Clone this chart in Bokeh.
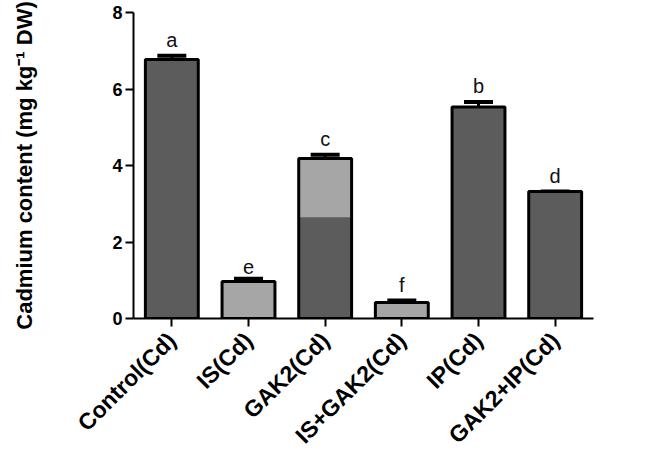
from bokeh.plotting import figure
from bokeh.models import ColumnDataSource, Whisker, TeeHead, FixedTicker
from bokeh.core.properties import value
from bokeh.embed import file_html
from bokeh.resources import INLINE
import math

categories = ["Control(Cd)", "IS(Cd)", "GAK2(Cd)", "IS+GAK2(Cd)", "IP(Cd)", "GAK2+IP(Cd)"]
means = [6.77, 0.97, 4.18, 0.42, 5.53, 3.32]
errors = [0.10, 0.07, 0.10, 0.05, 0.13, 0.0]
letters = ["a", "e", "c", "f", "b", "d"]
fill_colors = ["#5c5c5c", "#a6a6a6", "#5c5c5c", "#a6a6a6", "#5c5c5c", "#5c5c5c"]
# lighter shaded upper part of the GAK2(Cd) bar, as seen in the source image
shade_cats = ["GAK2(Cd)"]
shade_bottom = [2.65]
shade_top = [4.18]
y_ticks = [0, 2, 4, 6, 8]

upper = [m + e for m, e in zip(means, errors)]
label_y = [u + 0.12 for u in upper]

src = ColumnDataSource(dict(cat=categories, mean=means, upper=upper,
                            letter=letters, ly=label_y, fc=fill_colors))

p = figure(x_range=categories, y_range=(0, 8), width=660, height=460,
           output_backend="svg", toolbar_location=None,
           min_border_left=133, min_border_right=67, min_border_top=12, min_border_bottom=140)
p.x_range.range_padding = 0
p.grid.visible = False
p.outline_line_color = None

p.vbar(x="cat", top="mean", width=0.69, source=src,
       fill_color="fc", line_color=None)
p.vbar(x=shade_cats, bottom=shade_bottom, top=shade_top, width=0.69,
       fill_color="#a6a6a6", line_color=None)
p.vbar(x="cat", top="mean", width=0.69, source=src,
       fill_color=None, line_color="black", line_width=3)

w = Whisker(base="cat", upper="upper", lower="mean", source=src,
            line_color="black", line_width=3,
            upper_head=TeeHead(size=29, line_color="black", line_width=4),
            lower_head=None)
p.add_layout(w)

p.text(x="cat", y="ly", text="letter", source=src, text_align="center",
       text_baseline="bottom", text_font=value("Liberation Sans"),
       text_font_size="20px", text_color="#111111")

p.yaxis.ticker = FixedTicker(ticks=y_ticks)
p.yaxis.minor_tick_line_color = None
p.yaxis.axis_label = "Cadmium content (mg kg\u207b\u00b9 DW)"
p.yaxis.axis_label_text_font = "Liberation Sans"
p.yaxis.axis_label_text_font_style = "bold"
p.yaxis.axis_label_text_font_size = "22px"
p.yaxis.axis_label_text_color = "black"
p.yaxis.axis_label_standoff = 72

for ax in (p.xaxis, p.yaxis):
    ax.axis_line_width = 2
    ax.axis_line_color = "black"
    ax.major_tick_line_width = 2
    ax.major_tick_line_color = "black"
    ax.major_tick_in = 0
    ax.major_tick_out = 8
    ax.major_label_text_font = "Liberation Sans"
    ax.major_label_text_font_style = "bold"
    ax.major_label_text_color = "black"

p.yaxis.major_label_text_font_size = "18px"
p.yaxis.major_label_standoff = 3
p.xaxis.major_label_text_font_size = "23px"
p.xaxis.major_label_orientation = math.pi / 4
p.xaxis.major_label_standoff = 10

open("out.html", "w").write(file_html(p, INLINE))
